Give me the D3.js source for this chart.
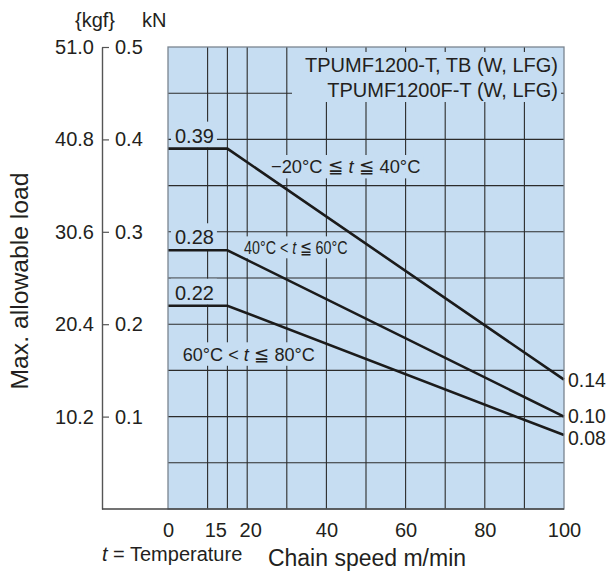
<!DOCTYPE html>
<html>
<head>
<meta charset="utf-8">
<script src="https://cdn.jsdelivr.net/npm/d3@7"></script>
<style>
body { margin: 0; background: #fff; }
svg text { font-family: "Liberation Sans", Arial, Helvetica, sans-serif; fill: #231f20; white-space: pre; }
</style>
</head>
<body>
<svg id="chart" width="612" height="572"></svg>
<script>
// chain speed (m/min) break points and max allowable load (kN) per temperature band
const speeds = [0, 15, 100];
const loadCold = [0.39, 0.39, 0.14];
const loadWarm = [0.28, 0.28, 0.10];
const loadHot = [0.22, 0.22, 0.08];
const series = [loadCold, loadWarm, loadHot];

const startLabels = ['0.39', '0.28', '0.22'];
const endLabels = ['0.14', '0.10', '0.08'];
const bandLabels = [
	['\u221220°C ≦ ', 't', ' ≦ 40°C'],
	['40°C < ', 't', ' ≦ 60°C'],
	['60°C < ', 't', ' ≦ 80°C']
];
const modelLines = ['TPUMF1200-T, TB (W, LFG)', 'TPUMF1200F-T (W, LFG)'];

const kNTicks = [0.1, 0.2, 0.3, 0.4, 0.5];
const kgfTicks = ['10.2', '20.4', '30.6', '40.8', '51.0'];
const speedTicks = [0, 15, 20, 40, 60, 80, 100];
const speedGrid = [10, 15, 20, 30, 40, 50, 60, 70, 80, 90];
const loadGrid = [0.05, 0.1, 0.15, 0.2, 0.25, 0.3, 0.35, 0.4, 0.45];

const svg = d3.select('#chart');
const axisX = 102;
const bg = '#c6ddf2';
const ink = '#231f20';

const x = d3.scaleLinear().domain([0, 100]).range([168, 564]);
const y = d3.scaleLinear().domain([0, 0.5]).range([509, 47]);

// plot background
svg.append('rect')
	.attr('x', x(0)).attr('y', y(0.5))
	.attr('width', x(100) - x(0)).attr('height', y(0) - y(0.5))
	.attr('fill', bg);

// grid
const grid = svg.append('g').attr('stroke', '#2b2b2b').attr('stroke-width', 1.1);
grid.selectAll('.vg').data(speedGrid).enter().append('line')
	.attr('x1', d => x(d)).attr('x2', d => x(d))
	.attr('y1', y(0.5)).attr('y2', y(0));
grid.selectAll('.hg').data(loadGrid).enter().append('line')
	.attr('x1', x(0)).attr('x2', x(100))
	.attr('y1', d => y(d)).attr('y2', d => y(d));

const notes = svg.append('g');

// puts a background-coloured box under a label so the grid breaks around it
function boxed(text, padL, padR, padT, padB){
	const b = text.node().getBBox();
	d3.select(text.node().parentNode).insert('rect', () => text.node())
		.attr('x', b.x - padL).attr('y', b.y - padT)
		.attr('width', b.width + padL + padR).attr('height', b.height + padT + padB)
		.attr('fill', bg);
	return text;
}

// model names, top right
const model = notes.append('text')
	.attr('text-anchor', 'end')
	.style('font-size', '20px');
model.selectAll('tspan').data(modelLines).enter().append('tspan')
	.attr('x', x(100) - 6)
	.attr('y', (d, i) => 72 + i * 25)
	.text(d => d);
boxed(model, 13, 3, 2, 1);

// start values on the flat part
startLabels.forEach((d, i) => {
	const t = notes.append('text')
		.attr('x', x(0) + 7)
		.attr('y', y(series[i][0]) - 6)
		.style('font-size', '20px')
		.text(d);
	boxed(t, 4, 3, 3, 1);
});

// temperature band labels, squeezed horizontally to the printed width
const bandPos = [
	{ at: [26, 0.3633], w: 149, fs: 19 },
	{ at: [19.2, 0.276], w: 104, fs: 18 },
	{ at: [3.7, 0.1605], w: 132, fs: 19 }
];
bandLabels.forEach((parts, i) => {
	const p = bandPos[i];
	const g = notes.append('g');
	const t = g.append('text').style('font-size', p.fs + 'px');
	t.selectAll('tspan').data(parts).enter().append('tspan')
		.style('font-style', (d, j) => j === 1 ? 'italic' : 'normal')
		.text(d => d);
	const sx = p.w / t.node().getComputedTextLength();
	g.attr('transform', `translate(${x(p.at[0])},${y(p.at[1])}) scale(${sx},1)`);
	boxed(t, 3, 3, 1, 1);
});

// load curves
const line = d3.line()
	.x((d, i) => x(speeds[i]))
	.y(d => y(d));

svg.append('g').selectAll('path')
	.data(series).enter().append('path')
	.attr('d', d => line(d))
	.attr('fill', 'none')
	.attr('stroke', '#1b1b1b')
	.attr('stroke-width', 2.6)
	.attr('stroke-linejoin', 'miter');

// end values; the two lower ones are tight, spread them a touch
const endNudge = [0, -1, 2.5];
svg.append('g').selectAll('text')
	.data(endLabels).enter().append('text')
	.attr('x', x(100) + 4)
	.attr('y', (d, i) => y(series[i][2]) + endNudge[i])
	.attr('dy', '0.36em')
	.style('font-size', '19.5px')
	.text(d => d);

// plot frame
svg.append('rect')
	.attr('x', x(0)).attr('y', y(0.5))
	.attr('width', x(100) - x(0)).attr('height', y(0) - y(0.5))
	.attr('fill', 'none')
	.attr('stroke', '#7a8590')
	.attr('stroke-width', 1.3);

// left axis: kN to the right of the line, kgf to the left
const gKN = svg.append('g')
	.attr('transform', `translate(${axisX},0)`)
	.call(d3.axisRight(y).tickValues(kNTicks).tickSize(7).tickSizeOuter(0).tickPadding(6)
		.tickFormat(d3.format('.1f')));
gKN.select('.domain').attr('stroke', '#555').attr('stroke-width', 1.4);
gKN.selectAll('.tick line').attr('stroke', '#555').attr('stroke-width', 1.2);
gKN.selectAll('text').attr('fill', ink)
	.style('font-size', '20px')
	.style('font-family', '"Liberation Sans", Arial, sans-serif');

const gKgf = svg.append('g')
	.attr('transform', `translate(${axisX},0)`)
	.call(d3.axisLeft(y).tickValues(kNTicks).tickSize(0).tickPadding(8)
		.tickFormat((d, i) => kgfTicks[i]));
gKgf.select('.domain').remove();
gKgf.selectAll('text').attr('fill', ink)
	.style('font-size', '20px')
	.style('font-family', '"Liberation Sans", Arial, sans-serif');

// bottom axis
svg.append('line')
	.attr('x1', axisX).attr('x2', x(100))
	.attr('y1', y(0)).attr('y2', y(0))
	.attr('stroke', '#444').attr('stroke-width', 1.4);

const gX = svg.append('g')
	.attr('transform', `translate(0,${y(0)})`)
	.call(d3.axisBottom(x).tickValues(speedTicks).tickSize(0).tickPadding(14));
gX.select('.domain').remove();
gX.selectAll('text').attr('fill', ink)
	.style('font-size', '20px')
	.style('font-family', '"Liberation Sans", Arial, sans-serif');
// 15 and 20 sit close together, nudge them apart
gX.selectAll('.tick').filter(d => d === 15).select('text').attr('text-anchor', 'end').attr('dx', -1);
gX.selectAll('.tick').filter(d => d === 20).select('text').attr('dx', 3);

// unit headers
svg.append('text')
	.attr('x', axisX + 13).attr('y', 27)
	.attr('text-anchor', 'end')
	.style('font-size', '20px')
	.text('{kgf}');
svg.append('text')
	.attr('x', axisX + 40).attr('y', 27)
	.style('font-size', '20px')
	.text('kN');

// axis titles
svg.append('text')
	.attr('transform', 'translate(28,281) rotate(-90)')
	.attr('text-anchor', 'middle')
	.attr('textLength', 217)
	.attr('lengthAdjust', 'spacingAndGlyphs')
	.style('font-size', '23px')
	.text('Max. allowable load');

svg.append('text')
	.attr('x', x(50) + 1).attr('y', 566)
	.attr('text-anchor', 'middle')
	.style('font-size', '23px')
	.text('Chain speed m/min');

const tLabel = svg.append('text')
	.attr('x', axisX).attr('y', 561)
	.style('font-size', '20px');
tLabel.append('tspan').style('font-style', 'italic').text('t');
tLabel.append('tspan').text(' = Temperature');
</script>
</body>
</html>
